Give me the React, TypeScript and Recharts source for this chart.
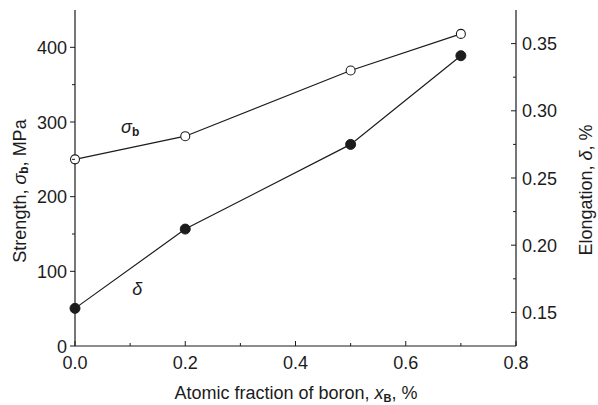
import React from "react";
import { LineChart, Line, XAxis, YAxis, ReferenceDot } from "recharts";

const boronFraction = [0, 0.2, 0.5, 0.7];
const strengthMPa = [250, 281, 369, 418];
const elongation = [0.153, 0.212, 0.275, 0.341];

const xTicks = [0, 0.1, 0.2, 0.3, 0.4, 0.5, 0.6, 0.7, 0.8];
const leftTicks = [0, 50, 100, 150, 200, 250, 300, 350, 400];
const rightTicks = [0.15, 0.175, 0.2, 0.225, 0.25, 0.275, 0.3, 0.325, 0.35];

const data = boronFraction.map((x, i) => ({ x, s: strengthMPa[i], e: elongation[i] }));

const FONT = "'Liberation Sans', Arial, sans-serif";
const INK = "#1c1c1c";
const FS = 18;

const XTick = (props: any) => {
  const { x, y, payload } = props;
  const v = payload.value as number;
  const major = Math.round(v * 10) % 2 === 0;
  return (
    <g>
      <line x1={x} x2={x} y1={y} y2={y - (major ? 5 : 3)} stroke={INK} strokeWidth={1} />
      {major && (
        <text x={x} y={y + 23} textAnchor="middle" fontSize={FS} fontFamily={FONT} fill={INK}>
          {v.toFixed(1)}
        </text>
      )}
    </g>
  );
};

const LeftTick = (props: any) => {
  const { x, y, payload } = props;
  const v = payload.value as number;
  const major = v % 100 === 0;
  return (
    <g>
      <line x1={x} x2={x - (major ? 5 : 3)} y1={y} y2={y} stroke={INK} strokeWidth={1} />
      {major && (
        <text x={x - 8} y={y + 6.5} textAnchor="end" fontSize={FS} fontFamily={FONT} fill={INK}>
          {v}
        </text>
      )}
    </g>
  );
};

const RightTick = (props: any) => {
  const { x, y, payload } = props;
  const v = payload.value as number;
  const major = Math.round(v * 1000) % 50 === 0;
  return (
    <g>
      <line x1={x} x2={x - (major ? 5 : 3)} y1={y} y2={y} stroke={INK} strokeWidth={1} />
      {major && (
        <text x={x + 6} y={y + 6.5} textAnchor="start" fontSize={FS} fontFamily={FONT} fill={INK}>
          {v.toFixed(2)}
        </text>
      )}
    </g>
  );
};

const LeftLabel = (props: any) => {
  const vb = props.viewBox;
  const cx = vb.x + 20;
  const cy = 191;
  return (
    <text
      x={cx}
      y={cy}
      transform={`rotate(-90, ${cx}, ${cy})`}
      textAnchor="middle"
      dominantBaseline="central"
      fontSize={FS}
      fontFamily={FONT}
      fill={INK}
    >
      Strength,{" "}
      <tspan fontStyle="italic">σ</tspan>
      <tspan dy={4} fontSize={12} fontWeight="bold">b</tspan>
      <tspan dy={-4}>, MPa</tspan>
    </text>
  );
};

const RightLabel = (props: any) => {
  const vb = props.viewBox;
  const cx = vb.x + 70;
  const cy = 190;
  return (
    <text
      x={cx}
      y={cy}
      transform={`rotate(-90, ${cx}, ${cy})`}
      textAnchor="middle"
      dominantBaseline="central"
      fontSize={FS}
      fontFamily={FONT}
      fill={INK}
    >
      Elongation, <tspan fontStyle="italic">δ</tspan>, %
    </text>
  );
};

const XLabel = () => (
  <text x={296} y={399} textAnchor="middle" fontSize={FS} fontFamily={FONT} fill={INK}>
    Atomic fraction of  boron, <tspan fontStyle="italic">x</tspan>
    <tspan dy={3} fontSize={11} fontWeight="bold">B</tspan>
    <tspan dy={-3}>, %</tspan>
  </text>
);

const OpenDot = (p: any) => (
  <circle cx={p.cx} cy={p.cy} r={4.5} fill="#fff" stroke={INK} strokeWidth={1.1} />
);
const FilledDot = (p: any) => (
  <circle cx={p.cx} cy={p.cy} r={5} fill={INK} stroke={INK} strokeWidth={1} />
);

export default function App() {
  return (
    <div style={{ position: "absolute", left: 0, top: 0, background: "#fff" }}>
      <LineChart
        width={598}
        height={405}
        data={data}
        margin={{ top: 10, right: 0, bottom: 0, left: 0 }}
      >
        <XAxis
          xAxisId="b"
          dataKey="x"
          type="number"
          domain={[0, 0.8]}
          ticks={xTicks}
          interval={0}
          height={59}
          tickSize={0}
          tickMargin={0}
          tickLine={false}
          tick={<XTick />}
          axisLine={{ stroke: INK, strokeWidth: 1.2 }}
          label={<XLabel />}
        />
        <XAxis
          xAxisId="top"
          orientation="top"
          dataKey="x"
          type="number"
          domain={[0, 0.8]}
          height={0}
          tick={false}
          tickLine={false}
          axisLine={{ stroke: INK, strokeWidth: 1.2 }}
        />
        <YAxis
          yAxisId="left"
          orientation="left"
          type="number"
          domain={[0, 450]}
          ticks={leftTicks}
          interval={0}
          width={75}
          tickSize={0}
          tickMargin={0}
          tickLine={false}
          tick={<LeftTick />}
          allowDataOverflow
          axisLine={{ stroke: INK, strokeWidth: 1.2 }}
          label={<LeftLabel />}
        />
        <YAxis
          yAxisId="right"
          orientation="right"
          type="number"
          domain={[0.125, 0.375]}
          ticks={rightTicks}
          interval={0}
          width={82}
          tickSize={0}
          tickMargin={0}
          tickLine={false}
          tick={<RightTick />}
          allowDataOverflow
          axisLine={{ stroke: INK, strokeWidth: 1.2 }}
          label={<RightLabel />}
        />
        <Line
          xAxisId="b"
          yAxisId="left"
          dataKey="s"
          type="linear"
          stroke={INK}
          strokeWidth={1.2}
          dot={<OpenDot />}
          activeDot={false}
          isAnimationActive={false}
        />
        <Line
          xAxisId="b"
          yAxisId="right"
          dataKey="e"
          type="linear"
          stroke={INK}
          strokeWidth={1.2}
          dot={<FilledDot />}
          activeDot={false}
          isAnimationActive={false}
        />
        <ReferenceDot
          xAxisId="b"
          yAxisId="left"
          x={0.1}
          y={293}
          r={0}
          shape={(p: any) => (
            <text x={p.cx} y={p.cy + 6} textAnchor="middle" fontSize={FS} fontFamily={FONT} fill={INK}>
              <tspan fontStyle="italic">σ</tspan>
              <tspan dy={3} fontSize={12} fontWeight="bold">b</tspan>
            </text>
          )}
        />
        <ReferenceDot
          xAxisId="b"
          yAxisId="left"
          x={0.113}
          y={77}
          r={0}
          shape={(p: any) => (
            <text x={p.cx} y={p.cy + 6} textAnchor="middle" fontSize={FS} fontStyle="italic" fontFamily={FONT} fill={INK}>
              δ
            </text>
          )}
        />
      </LineChart>
    </div>
  );
}
